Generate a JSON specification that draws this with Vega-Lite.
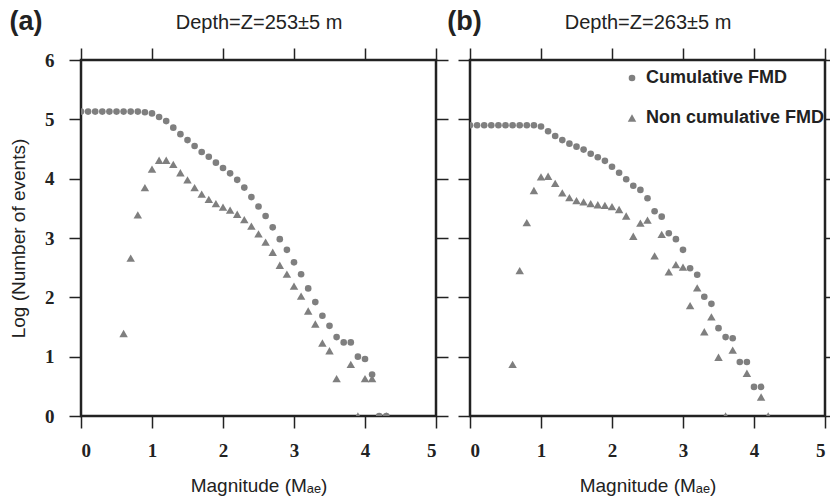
{
  "$schema": "https://vega.github.io/schema/vega-lite/v6.json",
  "padding": {"left": 8, "top": 7, "right": 0, "bottom": 0},
  "background": "white",
  "datasets": {
    "fmd": [
      {"panel": "a", "type": "Cumulative FMD", "mag": 0.0, "logn": 5.13},
      {"panel": "a", "type": "Cumulative FMD", "mag": 0.1, "logn": 5.13},
      {"panel": "a", "type": "Cumulative FMD", "mag": 0.2, "logn": 5.13},
      {"panel": "a", "type": "Cumulative FMD", "mag": 0.3, "logn": 5.13},
      {"panel": "a", "type": "Cumulative FMD", "mag": 0.4, "logn": 5.13},
      {"panel": "a", "type": "Cumulative FMD", "mag": 0.5, "logn": 5.13},
      {"panel": "a", "type": "Cumulative FMD", "mag": 0.6, "logn": 5.13},
      {"panel": "a", "type": "Cumulative FMD", "mag": 0.7, "logn": 5.13},
      {"panel": "a", "type": "Cumulative FMD", "mag": 0.8, "logn": 5.13},
      {"panel": "a", "type": "Cumulative FMD", "mag": 0.9, "logn": 5.12},
      {"panel": "a", "type": "Cumulative FMD", "mag": 1.0, "logn": 5.10},
      {"panel": "a", "type": "Cumulative FMD", "mag": 1.1, "logn": 5.04},
      {"panel": "a", "type": "Cumulative FMD", "mag": 1.2, "logn": 4.97},
      {"panel": "a", "type": "Cumulative FMD", "mag": 1.3, "logn": 4.86},
      {"panel": "a", "type": "Cumulative FMD", "mag": 1.4, "logn": 4.75},
      {"panel": "a", "type": "Cumulative FMD", "mag": 1.5, "logn": 4.65},
      {"panel": "a", "type": "Cumulative FMD", "mag": 1.6, "logn": 4.55},
      {"panel": "a", "type": "Cumulative FMD", "mag": 1.7, "logn": 4.45},
      {"panel": "a", "type": "Cumulative FMD", "mag": 1.8, "logn": 4.37},
      {"panel": "a", "type": "Cumulative FMD", "mag": 1.9, "logn": 4.27},
      {"panel": "a", "type": "Cumulative FMD", "mag": 2.0, "logn": 4.18},
      {"panel": "a", "type": "Cumulative FMD", "mag": 2.1, "logn": 4.09},
      {"panel": "a", "type": "Cumulative FMD", "mag": 2.2, "logn": 3.98},
      {"panel": "a", "type": "Cumulative FMD", "mag": 2.3, "logn": 3.85},
      {"panel": "a", "type": "Cumulative FMD", "mag": 2.4, "logn": 3.69},
      {"panel": "a", "type": "Cumulative FMD", "mag": 2.5, "logn": 3.53},
      {"panel": "a", "type": "Cumulative FMD", "mag": 2.6, "logn": 3.37},
      {"panel": "a", "type": "Cumulative FMD", "mag": 2.7, "logn": 3.18},
      {"panel": "a", "type": "Cumulative FMD", "mag": 2.8, "logn": 2.98},
      {"panel": "a", "type": "Cumulative FMD", "mag": 2.9, "logn": 2.80},
      {"panel": "a", "type": "Cumulative FMD", "mag": 3.0, "logn": 2.59},
      {"panel": "a", "type": "Cumulative FMD", "mag": 3.1, "logn": 2.39},
      {"panel": "a", "type": "Cumulative FMD", "mag": 3.2, "logn": 2.15},
      {"panel": "a", "type": "Cumulative FMD", "mag": 3.3, "logn": 1.92},
      {"panel": "a", "type": "Cumulative FMD", "mag": 3.4, "logn": 1.69},
      {"panel": "a", "type": "Cumulative FMD", "mag": 3.5, "logn": 1.52},
      {"panel": "a", "type": "Cumulative FMD", "mag": 3.6, "logn": 1.33},
      {"panel": "a", "type": "Cumulative FMD", "mag": 3.7, "logn": 1.24},
      {"panel": "a", "type": "Cumulative FMD", "mag": 3.8, "logn": 1.24},
      {"panel": "a", "type": "Cumulative FMD", "mag": 3.9, "logn": 1.00},
      {"panel": "a", "type": "Cumulative FMD", "mag": 4.0, "logn": 0.96},
      {"panel": "a", "type": "Cumulative FMD", "mag": 4.1, "logn": 0.70},
      {"panel": "a", "type": "Cumulative FMD", "mag": 4.2, "logn": 0.0},
      {"panel": "a", "type": "Cumulative FMD", "mag": 4.3, "logn": 0.0},
      {"panel": "a", "type": "Non cumulative FMD", "mag": 0.6, "logn": 1.39},
      {"panel": "a", "type": "Non cumulative FMD", "mag": 0.7, "logn": 2.66},
      {"panel": "a", "type": "Non cumulative FMD", "mag": 0.8, "logn": 3.39},
      {"panel": "a", "type": "Non cumulative FMD", "mag": 0.9, "logn": 3.85},
      {"panel": "a", "type": "Non cumulative FMD", "mag": 1.0, "logn": 4.16},
      {"panel": "a", "type": "Non cumulative FMD", "mag": 1.1, "logn": 4.31},
      {"panel": "a", "type": "Non cumulative FMD", "mag": 1.2, "logn": 4.31},
      {"panel": "a", "type": "Non cumulative FMD", "mag": 1.3, "logn": 4.24},
      {"panel": "a", "type": "Non cumulative FMD", "mag": 1.4, "logn": 4.10},
      {"panel": "a", "type": "Non cumulative FMD", "mag": 1.5, "logn": 3.98},
      {"panel": "a", "type": "Non cumulative FMD", "mag": 1.6, "logn": 3.85},
      {"panel": "a", "type": "Non cumulative FMD", "mag": 1.7, "logn": 3.74},
      {"panel": "a", "type": "Non cumulative FMD", "mag": 1.8, "logn": 3.65},
      {"panel": "a", "type": "Non cumulative FMD", "mag": 1.9, "logn": 3.58},
      {"panel": "a", "type": "Non cumulative FMD", "mag": 2.0, "logn": 3.52},
      {"panel": "a", "type": "Non cumulative FMD", "mag": 2.1, "logn": 3.47},
      {"panel": "a", "type": "Non cumulative FMD", "mag": 2.2, "logn": 3.40},
      {"panel": "a", "type": "Non cumulative FMD", "mag": 2.3, "logn": 3.31},
      {"panel": "a", "type": "Non cumulative FMD", "mag": 2.4, "logn": 3.20},
      {"panel": "a", "type": "Non cumulative FMD", "mag": 2.5, "logn": 3.07},
      {"panel": "a", "type": "Non cumulative FMD", "mag": 2.6, "logn": 2.93},
      {"panel": "a", "type": "Non cumulative FMD", "mag": 2.7, "logn": 2.76},
      {"panel": "a", "type": "Non cumulative FMD", "mag": 2.8, "logn": 2.54},
      {"panel": "a", "type": "Non cumulative FMD", "mag": 2.9, "logn": 2.39},
      {"panel": "a", "type": "Non cumulative FMD", "mag": 3.0, "logn": 2.19},
      {"panel": "a", "type": "Non cumulative FMD", "mag": 3.1, "logn": 2.02},
      {"panel": "a", "type": "Non cumulative FMD", "mag": 3.2, "logn": 1.77},
      {"panel": "a", "type": "Non cumulative FMD", "mag": 3.3, "logn": 1.55},
      {"panel": "a", "type": "Non cumulative FMD", "mag": 3.4, "logn": 1.23},
      {"panel": "a", "type": "Non cumulative FMD", "mag": 3.5, "logn": 1.10},
      {"panel": "a", "type": "Non cumulative FMD", "mag": 3.6, "logn": 0.63},
      {"panel": "a", "type": "Non cumulative FMD", "mag": 3.8, "logn": 0.87},
      {"panel": "a", "type": "Non cumulative FMD", "mag": 3.9, "logn": 0.0},
      {"panel": "a", "type": "Non cumulative FMD", "mag": 4.0, "logn": 0.63},
      {"panel": "a", "type": "Non cumulative FMD", "mag": 4.1, "logn": 0.63},
      {"panel": "a", "type": "Non cumulative FMD", "mag": 4.3, "logn": 0.0},
      {"panel": "b", "type": "Cumulative FMD", "mag": 0.0, "logn": 4.90},
      {"panel": "b", "type": "Cumulative FMD", "mag": 0.1, "logn": 4.90},
      {"panel": "b", "type": "Cumulative FMD", "mag": 0.2, "logn": 4.90},
      {"panel": "b", "type": "Cumulative FMD", "mag": 0.3, "logn": 4.90},
      {"panel": "b", "type": "Cumulative FMD", "mag": 0.4, "logn": 4.90},
      {"panel": "b", "type": "Cumulative FMD", "mag": 0.5, "logn": 4.90},
      {"panel": "b", "type": "Cumulative FMD", "mag": 0.6, "logn": 4.90},
      {"panel": "b", "type": "Cumulative FMD", "mag": 0.7, "logn": 4.90},
      {"panel": "b", "type": "Cumulative FMD", "mag": 0.8, "logn": 4.90},
      {"panel": "b", "type": "Cumulative FMD", "mag": 0.9, "logn": 4.90},
      {"panel": "b", "type": "Cumulative FMD", "mag": 1.0, "logn": 4.88},
      {"panel": "b", "type": "Cumulative FMD", "mag": 1.1, "logn": 4.80},
      {"panel": "b", "type": "Cumulative FMD", "mag": 1.2, "logn": 4.72},
      {"panel": "b", "type": "Cumulative FMD", "mag": 1.3, "logn": 4.65},
      {"panel": "b", "type": "Cumulative FMD", "mag": 1.4, "logn": 4.59},
      {"panel": "b", "type": "Cumulative FMD", "mag": 1.5, "logn": 4.54},
      {"panel": "b", "type": "Cumulative FMD", "mag": 1.6, "logn": 4.49},
      {"panel": "b", "type": "Cumulative FMD", "mag": 1.7, "logn": 4.42},
      {"panel": "b", "type": "Cumulative FMD", "mag": 1.8, "logn": 4.36},
      {"panel": "b", "type": "Cumulative FMD", "mag": 1.9, "logn": 4.30},
      {"panel": "b", "type": "Cumulative FMD", "mag": 2.0, "logn": 4.20},
      {"panel": "b", "type": "Cumulative FMD", "mag": 2.1, "logn": 4.10},
      {"panel": "b", "type": "Cumulative FMD", "mag": 2.2, "logn": 3.99},
      {"panel": "b", "type": "Cumulative FMD", "mag": 2.3, "logn": 3.88},
      {"panel": "b", "type": "Cumulative FMD", "mag": 2.4, "logn": 3.81},
      {"panel": "b", "type": "Cumulative FMD", "mag": 2.5, "logn": 3.67},
      {"panel": "b", "type": "Cumulative FMD", "mag": 2.6, "logn": 3.45},
      {"panel": "b", "type": "Cumulative FMD", "mag": 2.7, "logn": 3.36},
      {"panel": "b", "type": "Cumulative FMD", "mag": 2.8, "logn": 3.08},
      {"panel": "b", "type": "Cumulative FMD", "mag": 2.9, "logn": 2.98},
      {"panel": "b", "type": "Cumulative FMD", "mag": 3.0, "logn": 2.80},
      {"panel": "b", "type": "Cumulative FMD", "mag": 3.1, "logn": 2.49},
      {"panel": "b", "type": "Cumulative FMD", "mag": 3.2, "logn": 2.38},
      {"panel": "b", "type": "Cumulative FMD", "mag": 3.3, "logn": 2.01},
      {"panel": "b", "type": "Cumulative FMD", "mag": 3.4, "logn": 1.89},
      {"panel": "b", "type": "Cumulative FMD", "mag": 3.5, "logn": 1.48},
      {"panel": "b", "type": "Cumulative FMD", "mag": 3.6, "logn": 1.33},
      {"panel": "b", "type": "Cumulative FMD", "mag": 3.7, "logn": 1.31},
      {"panel": "b", "type": "Cumulative FMD", "mag": 3.8, "logn": 0.91},
      {"panel": "b", "type": "Cumulative FMD", "mag": 3.9, "logn": 0.91},
      {"panel": "b", "type": "Cumulative FMD", "mag": 4.0, "logn": 0.49},
      {"panel": "b", "type": "Cumulative FMD", "mag": 4.1, "logn": 0.49},
      {"panel": "b", "type": "Non cumulative FMD", "mag": 0.6, "logn": 0.87},
      {"panel": "b", "type": "Non cumulative FMD", "mag": 0.7, "logn": 2.45},
      {"panel": "b", "type": "Non cumulative FMD", "mag": 0.8, "logn": 3.26},
      {"panel": "b", "type": "Non cumulative FMD", "mag": 0.9, "logn": 3.80},
      {"panel": "b", "type": "Non cumulative FMD", "mag": 1.0, "logn": 4.03},
      {"panel": "b", "type": "Non cumulative FMD", "mag": 1.1, "logn": 4.04},
      {"panel": "b", "type": "Non cumulative FMD", "mag": 1.2, "logn": 3.92},
      {"panel": "b", "type": "Non cumulative FMD", "mag": 1.3, "logn": 3.76},
      {"panel": "b", "type": "Non cumulative FMD", "mag": 1.4, "logn": 3.68},
      {"panel": "b", "type": "Non cumulative FMD", "mag": 1.5, "logn": 3.63},
      {"panel": "b", "type": "Non cumulative FMD", "mag": 1.6, "logn": 3.61},
      {"panel": "b", "type": "Non cumulative FMD", "mag": 1.7, "logn": 3.58},
      {"panel": "b", "type": "Non cumulative FMD", "mag": 1.8, "logn": 3.56},
      {"panel": "b", "type": "Non cumulative FMD", "mag": 1.9, "logn": 3.55},
      {"panel": "b", "type": "Non cumulative FMD", "mag": 2.0, "logn": 3.53},
      {"panel": "b", "type": "Non cumulative FMD", "mag": 2.1, "logn": 3.48},
      {"panel": "b", "type": "Non cumulative FMD", "mag": 2.2, "logn": 3.37},
      {"panel": "b", "type": "Non cumulative FMD", "mag": 2.3, "logn": 3.03},
      {"panel": "b", "type": "Non cumulative FMD", "mag": 2.4, "logn": 3.25},
      {"panel": "b", "type": "Non cumulative FMD", "mag": 2.5, "logn": 3.30},
      {"panel": "b", "type": "Non cumulative FMD", "mag": 2.6, "logn": 2.70},
      {"panel": "b", "type": "Non cumulative FMD", "mag": 2.7, "logn": 3.06},
      {"panel": "b", "type": "Non cumulative FMD", "mag": 2.8, "logn": 2.43},
      {"panel": "b", "type": "Non cumulative FMD", "mag": 2.9, "logn": 2.55},
      {"panel": "b", "type": "Non cumulative FMD", "mag": 3.0, "logn": 2.51},
      {"panel": "b", "type": "Non cumulative FMD", "mag": 3.1, "logn": 1.86},
      {"panel": "b", "type": "Non cumulative FMD", "mag": 3.2, "logn": 2.16},
      {"panel": "b", "type": "Non cumulative FMD", "mag": 3.3, "logn": 1.42},
      {"panel": "b", "type": "Non cumulative FMD", "mag": 3.4, "logn": 1.67},
      {"panel": "b", "type": "Non cumulative FMD", "mag": 3.5, "logn": 0.99},
      {"panel": "b", "type": "Non cumulative FMD", "mag": 3.6, "logn": 0.0},
      {"panel": "b", "type": "Non cumulative FMD", "mag": 3.7, "logn": 1.11},
      {"panel": "b", "type": "Non cumulative FMD", "mag": 3.9, "logn": 0.72},
      {"panel": "b", "type": "Non cumulative FMD", "mag": 4.1, "logn": 0.32},
      {"panel": "b", "type": "Non cumulative FMD", "mag": 4.2, "logn": 0.0}
    ]
  },
  "config": {
    "view": {"stroke": "#222222", "strokeWidth": 2.5},
    "axis": {
      "grid": false, "domain": false, "tickSize": 12, "tickColor": "#222222", "tickWidth": 1.5,
      "labelFont": "Liberation Serif", "labelFontWeight": "bold", "labelFontSize": 19, "labelColor": "#222222",
      "titleFont": "Liberation Sans", "titleFontWeight": "normal", "titleFontSize": 19, "titleColor": "#222222"
    },
    "legend": {"orient": "none", "legendX": 153, "legendY": 9, "title": null, "padding": 0,
               "labelFont": "Liberation Sans", "labelFontWeight": "bold", "labelFontSize": 18, "labelColor": "#222222", "labelLimit": 400,
               "symbolFillColor": "#7f7f7f", "symbolStrokeColor": "#7f7f7f", "symbolStrokeWidth": 0,
               "rowPadding": 22, "labelOffset": 5},
    "title": {"font": "Liberation Sans", "fontWeight": "bold", "fontSize": 27, "color": "#222222"}
  },
  "bounds": "flush",
  "spacing": 34,
  "resolve": {"legend": {"shape": "independent", "size": "independent"}},
  "hconcat": [
    {
      "width": 355, "height": 356,
      "title": {"text": "(a)", "anchor": "start", "frame": "bounds", "dy": 28, "dx": 0},
      "data": {"name": "fmd"},
      "transform": [{"filter": "datum.panel === 'a'"}],
      "resolve": {"axis": {"x": "independent", "y": "independent"}},
      "layer": [
        {
          "mark": {"type": "point", "filled": true, "opacity": 1, "color": "#7f7f7f", "clip": true},
          "encoding": {
            "x": {"field": "mag", "type": "quantitative", "scale": {"domain": [0, 5], "nice": false},
                  "axis": {"orient": "bottom", "values": [0, 1, 2, 3, 4, 5], "title": "Magnitude (Mₐₑ)", "labelPadding": 13, "titlePadding": 16}},
            "y": {"field": "logn", "type": "quantitative", "scale": {"domain": [0, 6], "nice": false},
                  "axis": {"orient": "left", "values": [0, 1, 2, 3, 4, 5, 6], "title": "Log (Number of events)", "labelPadding": 15, "titlePadding": 16}},
            "shape": {"field": "type", "type": "nominal", "scale": {"domain": ["Cumulative FMD", "Non cumulative FMD"], "range": ["circle", "triangle-up"]}, "legend": null},
            "size": {"field": "type", "type": "ordinal", "scale": {"domain": ["Cumulative FMD", "Non cumulative FMD"], "range": [44, 72]}, "legend": null}
          }
        },
        {
          "mark": {"type": "point", "opacity": 0},
          "encoding": {
            "x": {"field": "mag", "type": "quantitative", "scale": {"domain": [0, 5], "nice": false},
                  "axis": {"orient": "top", "values": [0, 1, 2, 3, 4, 5], "labels": false, "title": "Depth=Z=253±5 m", "titleFontSize": 20, "titlePadding": 15}},
            "y": {"field": "logn", "type": "quantitative", "scale": {"domain": [0, 6], "nice": false},
                  "axis": {"orient": "right", "values": [0, 1, 2, 3, 4, 5, 6], "labels": false, "title": null}}
          }
        }
      ]
    },
    {
      "width": 355, "height": 356,
      "title": {"text": "(b)", "anchor": "start", "frame": "bounds", "dy": 28, "dx": -10},
      "data": {"name": "fmd"},
      "transform": [{"filter": "datum.panel === 'b'"}],
      "resolve": {"axis": {"x": "independent", "y": "independent"}},
      "layer": [
        {
          "mark": {"type": "point", "filled": true, "opacity": 1, "color": "#7f7f7f", "clip": true},
          "encoding": {
            "x": {"field": "mag", "type": "quantitative", "scale": {"domain": [0, 5], "nice": false},
                  "axis": {"orient": "bottom", "values": [0, 1, 2, 3, 4, 5], "title": "Magnitude (Mₐₑ)", "labelPadding": 13, "titlePadding": 16}},
            "y": {"field": "logn", "type": "quantitative", "scale": {"domain": [0, 6], "nice": false},
                  "axis": {"orient": "left", "values": [0, 1, 2, 3, 4, 5, 6], "labels": false, "title": null}},
            "shape": {"field": "type", "type": "nominal", "scale": {"domain": ["Cumulative FMD", "Non cumulative FMD"], "range": ["circle", "triangle-up"]},
                      "legend": {"title": null}},
            "size": {"field": "type", "type": "ordinal", "scale": {"domain": ["Cumulative FMD", "Non cumulative FMD"], "range": [44, 72]},
                     "legend": {"title": null}}
          }
        },
        {
          "mark": {"type": "point", "opacity": 0},
          "encoding": {
            "x": {"field": "mag", "type": "quantitative", "scale": {"domain": [0, 5], "nice": false},
                  "axis": {"orient": "top", "values": [0, 1, 2, 3, 4, 5], "labels": false, "title": "Depth=Z=263±5 m", "titleFontSize": 20, "titlePadding": 15}},
            "y": {"field": "logn", "type": "quantitative", "scale": {"domain": [0, 6], "nice": false},
                  "axis": {"orient": "right", "values": [0, 1, 2, 3, 4, 5, 6], "labels": false, "title": null}}
          }
        }
      ]
    }
  ]
}
